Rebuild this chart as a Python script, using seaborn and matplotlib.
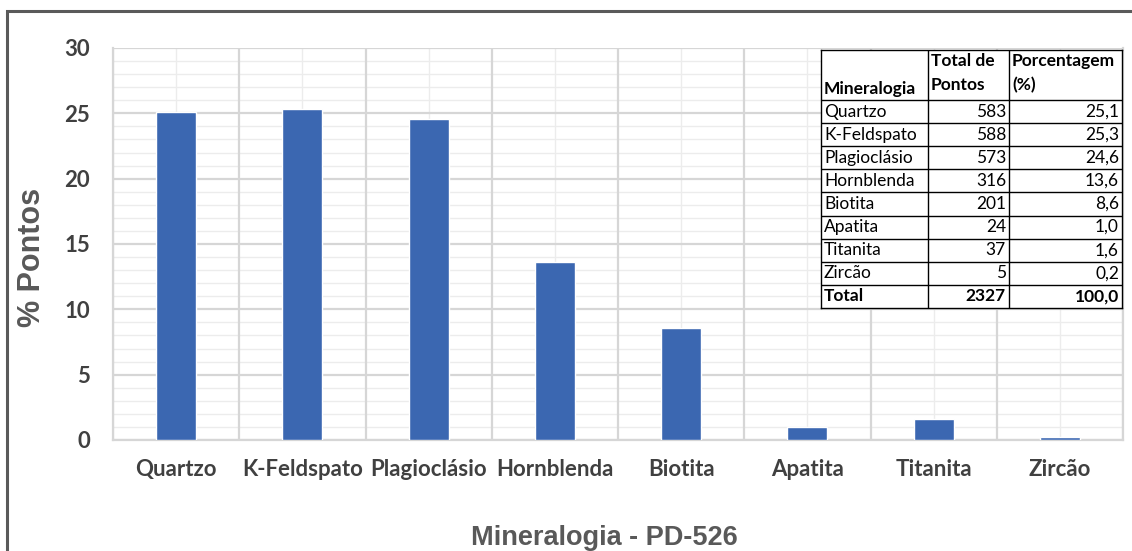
import matplotlib
matplotlib.use("Agg")
import matplotlib.pyplot as plt
from matplotlib.patches import Rectangle
import seaborn as sns
import pandas as pd

# Modal composition, sample PD-526
minerals = ["Quartzo", "K-Feldspato", "Plagioclásio", "Hornblenda",
            "Biotita", "Apatita", "Titanita", "Zircão"]
points = [583, 588, 573, 316, 201, 24, 37, 5]
percent = [25.1, 25.3, 24.6, 13.6, 8.6, 1.0, 1.6, 0.2]
total_points = 2327
total_percent = 100.0
y_ticks = [0, 5, 10, 15, 20, 25, 30]

df = pd.DataFrame({"Mineralogia": minerals, "Pontos": points, "Porcentagem": percent})

sns.set_theme(style="white")
plt.rcParams["font.family"] = ["Lato", "DejaVu Sans"]

W, H = 1132, 551
fig = plt.figure(figsize=(W / 100, H / 100), dpi=100)
fig.patch.set_facecolor("white")

# outer chart frame
fig.patches.append(Rectangle((7 / W, -0.05), 1.2, 1 - 11 / H + 0.05,
                             transform=fig.transFigure, fill=False,
                             edgecolor="#5a5a5a", linewidth=2.2, zorder=0))

ax = fig.add_axes([113 / W, 1 - 440 / H, (1123 - 113) / W, (440 - 48) / H])
bar_color = "#3b67b1"
sns.barplot(data=df, x="Mineralogia", y="Porcentagem", color=bar_color,
            width=0.317, saturation=1, ax=ax, zorder=3)

n = len(minerals)
ax.set_xlim(-0.5, n - 0.5)
ax.set_ylim(y_ticks[0], y_ticks[-1])
ax.set_yticks(y_ticks)
ax.set_yticks(range(y_ticks[0], y_ticks[-1] + 1), minor=True)

major_c, minor_c = "#d6d6d6", "#ececec"
ax.yaxis.grid(True, which="major", color=major_c, linewidth=1.6, zorder=1)
ax.yaxis.grid(True, which="minor", color=minor_c, linewidth=1.0, zorder=0.5)
ax.xaxis.grid(True, which="major", color=minor_c, linewidth=1.0, zorder=0.5)
for k in range(n + 1):
    ax.axvline(k - 0.5, color=major_c, linewidth=1.6, zorder=1)
ax.set_axisbelow(True)
for side, sp in ax.spines.items():
    sp.set_visible(side in ("left", "bottom", "right"))
    sp.set_color(major_c)
    sp.set_linewidth(1.6)

ax.tick_params(axis="both", which="both", length=0)
ax.tick_params(axis="y", pad=16.5)
ax.tick_params(axis="x", pad=14)
for lab in ax.get_yticklabels():
    lab.set_fontsize(16)
    lab.set_fontweight("bold")
    lab.set_color("#404040")
for lab in ax.get_xticklabels():
    lab.set_fontsize(16)
    lab.set_fontweight("bold")
    lab.set_color("#404040")

ax.set_xlabel("")
ax.set_ylabel("")
fig.text(32 / W, 1 - 257 / H, "% Pontos", rotation=90, ha="center", va="center",
         fontsize=22, fontweight="bold", color="#595959",
         family=["Liberation Sans", "DejaVu Sans"])
fig.text(604 / W, 1 - 538 / H, "Mineralogia - PD-526", ha="center", va="center",
         fontsize=19.5, fontweight="bold", color="#595959",
         family=["Liberation Sans", "DejaVu Sans"])

# data table overlaid on the plot
tx0, tx1, ty0, ty1 = 821, 1122, 50, 308
tab = fig.add_axes([tx0 / W, 1 - ty1 / H, (tx1 - tx0) / W, (ty1 - ty0) / H], zorder=5)
tw, th = tx1 - tx0, ty1 - ty0
tab.set_xlim(0, tw)
tab.set_ylim(th, 0)
tab.set_facecolor("white")
tab.set_xticks([])
tab.set_yticks([])
for sp in tab.spines.values():
    sp.set_color("black")
    sp.set_linewidth(1.0)

cols = [0, 107, 188, tw]
head_h = 50
rows_n = n + 1
row_h = (th - head_h) / rows_n
for c in cols[1:-1]:
    tab.plot([c, c], [0, th], color="black", lw=1.0)
tab.plot([0, tw], [head_h, head_h], color="black", lw=1.0)
for r in range(1, rows_n):
    y = head_h + r * row_h
    tab.plot([0, tw], [y, y], color="black", lw=1.0)

fs = 12.5
pad = 3
tab.text(pad, head_h - 3, "Mineralogia", ha="left", va="bottom", fontsize=fs,
         fontweight="bold", color="black")
tab.text(cols[1] + pad, 3, "Total de\nPontos", ha="left", va="top", fontsize=fs,
         fontweight="bold", color="black", linespacing=1.6)
tab.text(cols[2] + pad, 3, "Porcentagem\n(%)", ha="left", va="top", fontsize=fs,
         fontweight="bold", color="black", linespacing=1.6)


def fmt(v):
    return f"{v:.1f}".replace(".", ",")


for i, (m, p, q) in enumerate(zip(minerals, points, percent)):
    yc = head_h + (i + 0.5) * row_h
    tab.text(pad, yc, m, ha="left", va="center", fontsize=fs, color="black")
    tab.text(cols[2] - pad, yc, str(p), ha="right", va="center", fontsize=fs, color="black")
    tab.text(cols[3] - pad, yc, fmt(q), ha="right", va="center", fontsize=fs, color="black")
yc = head_h + (n + 0.5) * row_h
tab.text(pad, yc, "Total", ha="left", va="center", fontsize=fs, fontweight="bold", color="black")
tab.text(cols[2] - pad, yc, str(total_points), ha="right", va="center", fontsize=fs,
         fontweight="bold", color="black")
tab.text(cols[3] - pad, yc, fmt(total_percent), ha="right", va="center", fontsize=fs,
         fontweight="bold", color="black")

fig.savefig("out.png", dpi=100)
